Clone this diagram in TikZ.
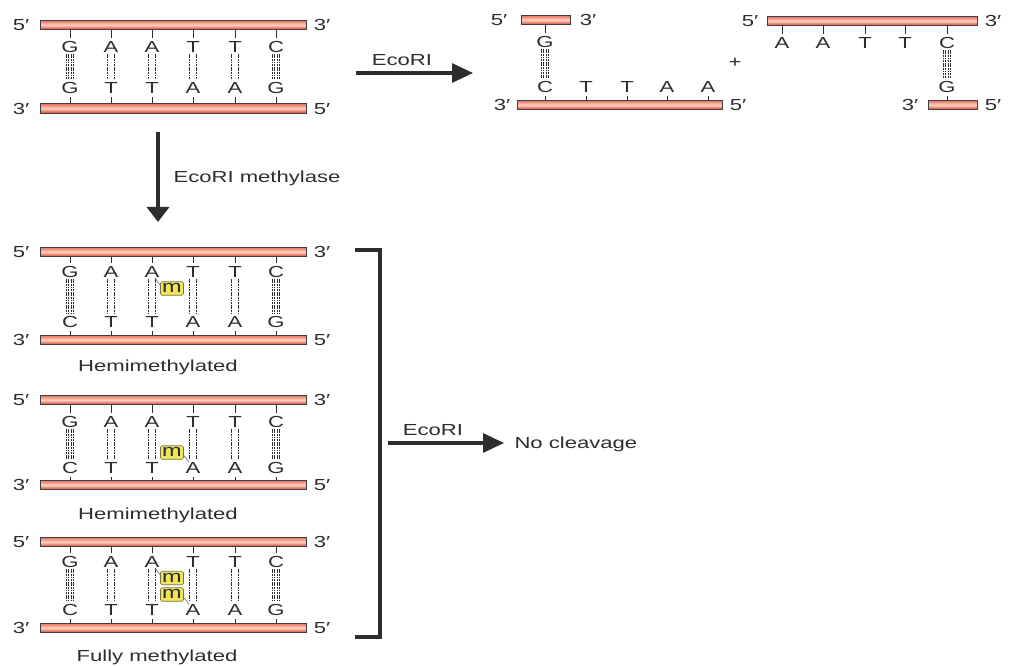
\documentclass[tikz,border=0pt]{standalone}
\usepackage{fontspec}
\setmainfont{Liberation Sans}[FakeStretch=1.38]
\usetikzlibrary{arrows.meta,calc}
\definecolor{txt}{RGB}{45,45,45}
\definecolor{stop}{RGB}{232,112,92}
\definecolor{smid}{RGB}{252,208,192}
\definecolor{sbot}{RGB}{222,56,38}
\definecolor{mfill}{RGB}{240,228,90}
\definecolor{mdraw}{RGB}{120,115,70}

\newcommand\hbpair[3]{%
  \ifnum#3=4
    \foreach \o in {-3.3,-1.1,1.1,3.3}{\draw[hbond] ([xshift=\o pt]#1.south) -- ([xshift=\o pt]#2.north);}
  \else
    \foreach \o in {-3.5,3.5}{\draw[hbond] ([xshift=\o pt]#1.south) -- ([xshift=\o pt]#2.north);}
  \fi}

\newcommand\dnaduplex[6]{%
  \node[strandbar, minimum width=266pt] (#1top) at (173,#2) {};
  \node[strandbar, minimum width=266pt] (#1bot) at (173,#3) {};
  \node[endlbl] (#1tl) at (21,#2) {5′};
  \node[endlbl] (#1tr) at (322,#2) {3′};
  \node[endlbl] (#1bl) at (21,#3) {3′};
  \node[endlbl] (#1br) at (322,#3) {5′};
  \foreach \i/\x/\t/\b/\n in {#6}{
    \node[nuc] (#1t\i) at (\x,#4) {\t};
    \node[nuc] (#1b\i) at (\x,#5) {\b};
    \draw[basetick] (#1t\i.north) -- (#1t\i.north |- #1top.south);
    \draw[basetick] (#1b\i.south) -- (#1b\i.south |- #1bot.north);
    \hbpair{#1t\i}{#1b\i}{\n}
  }}

\begin{document}
\begin{tikzpicture}[x=1pt,y=-1pt,
  every node/.style={font=\fontsize{16}{18}\selectfont, text=txt},
  strandbar/.style={draw=black!75, line width=0.6pt, inner sep=0pt, minimum height=9.5pt,
    top color=stop, bottom color=sbot, middle color=smid},
  nuc/.style={inner sep=0pt, outer sep=3pt, text height=11.5pt, text depth=0pt},
  endlbl/.style={inner sep=0pt, text height=11.5pt, text depth=0pt},
  basetick/.style={draw=txt, line width=0.7pt},
  hbond/.style={draw=txt, line width=0.85pt, dash pattern=on 1.8pt off 0.8pt, shorten <=-2pt},
  bigarrow/.style={draw=txt, line width=3.2pt, -{Triangle[length=21pt,width=19pt]}},
  vertarrow/.style={draw=txt, line width=3.6pt, -{Triangle[length=15pt,width=22pt]}},
  mbox/.style={draw=mdraw, fill=mfill, line width=0.6pt, rounded corners=1.5pt,
    minimum width=23pt, minimum height=13.5pt, inner sep=0pt, text height=8pt, text depth=0pt,
    font=\fontsize{17}{18}\selectfont},
  mline/.style={draw=txt!70, line width=0.6pt},
  bracketline/.style={draw=txt, line width=3.5pt}
]
\useasboundingbox (0,0) rectangle (1010,666);

% ---------- top-left duplex ----------
\dnaduplex{d1}{25}{108.5}{47}{88}{1/70/G/G/4, 2/111/A/T/2, 3/152/A/T/2, 4/193/T/A/2, 5/235/T/A/2, 6/276/C/G/4}

% EcoRI cleavage arrow
\coordinate (a1s) at (356,73);
\coordinate (a1e) at (473,73);
\draw[bigarrow] (a1s) -- (a1e);
\node (a1lbl) at (402,60) {EcoRI};

% ---------- product fragment 1 ----------
\node[strandbar, minimum width=49pt] (r1a) at (545.5,20) {};
\node[strandbar, minimum width=205pt] (r1b) at (619.5,105) {};
\node[endlbl] (r1l1) at (499,20) {5′};
\node[endlbl] (r1l2) at (588,20) {3′};
\node[endlbl] (r1l3) at (502,105) {3′};
\node[endlbl] (r1l4) at (738,105) {5′};
\node[nuc] (r1t1) at (545,42) {G};
\draw[basetick] (r1t1.north) -- (r1t1.north |- r1a.south);
\foreach \i/\x/\b in {1/545/C, 2/586/T, 3/627/T, 4/667/A, 5/708/A}{
  \node[nuc] (r1b\i) at (\x,87) {\b};
  \draw[basetick] (r1b\i.south) -- (r1b\i.south |- r1b.north);
}
\hbpair{r1t1}{r1b1}{4}

\node (plus) at (735,63) {+};

% ---------- product fragment 2 ----------
\node[strandbar, minimum width=210pt] (r2a) at (872,21) {};
\node[strandbar, minimum width=49pt] (r2b) at (952.5,105) {};
\node[endlbl] (r2l1) at (750,21) {5′};
\node[endlbl] (r2l2) at (993,21) {3′};
\node[endlbl] (r2l3) at (910,105) {3′};
\node[endlbl] (r2l4) at (993,105) {5′};
\foreach \i/\x/\t in {1/782/A, 2/823/A, 3/865/T, 4/905/T, 5/947/C}{
  \node[nuc] (r2t\i) at (\x,43) {\t};
  \draw[basetick] (r2t\i.north) -- (r2t\i.north |- r2a.south);
}
\node[nuc] (r2b5) at (947,87) {G};
\draw[basetick] (r2b5.south) -- (r2b5.south |- r2b.north);
\hbpair{r2t5}{r2b5}{4}

% ---------- methylase arrow ----------
\coordinate (a2s) at (158,132);
\coordinate (a2e) at (158,222);
\draw[vertarrow] (a2s) -- (a2e);
\node[anchor=west] (a2lbl) at (170,178) {EcoRI methylase};

% ---------- hemimethylated 1 ----------
\dnaduplex{d2}{252}{340}{272}{322}{1/70/G/C/4, 2/111/A/T/2, 3/152/A/T/2, 4/193/T/A/2, 5/235/T/A/2, 6/276/C/G/4}
\node[mbox] (m2) at (172,288.5) {m};
\draw[mline] ($(d2t3.center)+(3,6)$) -- ([yshift=3pt]m2.west);
\node (lbl2) at (158,367) {Hemimethylated};

% ---------- hemimethylated 2 ----------
\dnaduplex{d3}{400}{485}{422}{468}{1/70/G/C/4, 2/111/A/T/2, 3/152/A/T/2, 4/193/T/A/2, 5/235/T/A/2, 6/276/C/G/4}
\node[mbox] (m3) at (172,452.5) {m};
\draw[mline] ([yshift=-3pt]m3.east) -- ($(d3b4.center)+(-4,-6)$);
\node (lbl3) at (158,515) {Hemimethylated};

% ---------- fully methylated ----------
\dnaduplex{d4}{542}{628}{562}{610}{1/70/G/C/4, 2/111/A/T/2, 3/152/A/T/2, 4/193/T/A/2, 5/235/T/A/2, 6/276/C/G/4}
\node[mbox] (m4a) at (172,578) {m};
\node[mbox] (m4b) at (172,594.5) {m};
\draw[mline] ($(d4t3.center)+(3,6)$) -- ([yshift=3pt]m4a.west);
\draw[mline] ([yshift=-3pt]m4b.east) -- ($(d4b4.center)+(-4,-6)$);
\node (lbl4) at (157,657) {Fully methylated};

% ---------- bracket and no-cleavage arrow ----------
\coordinate (bk1) at (355,250);
\coordinate (bk2) at (380,250);
\coordinate (bk3) at (380,637);
\coordinate (bk4) at (355,637);
\draw[bracketline] (bk1) -- (bk2) -- (bk3) -- (bk4);
\coordinate (a3s) at (388,443);
\coordinate (a3e) at (504,443);
\draw[bigarrow] (a3s) -- (a3e);
\node (a3lbl) at (433,430) {EcoRI};
\node[anchor=west] (nocl) at (511,444) {No cleavage};
\end{tikzpicture}
\end{document}
